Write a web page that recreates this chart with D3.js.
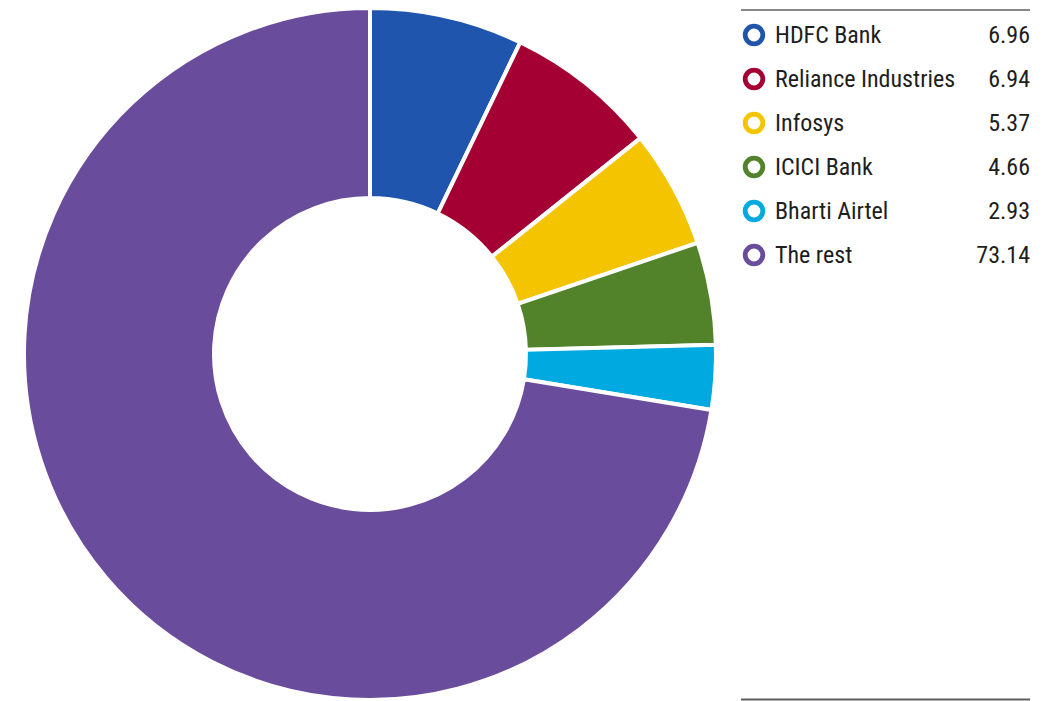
<!DOCTYPE html>
<html>
<head>
<meta charset="utf-8">
<script src="https://cdn.jsdelivr.net/npm/d3@7"></script>
<style>
  html, body { margin: 0; padding: 0; background: #ffffff; }
  svg { display: block; }
</style>
</head>
<body>
<script>
const names = ["HDFC Bank", "Reliance Industries", "Infosys", "ICICI Bank", "Bharti Airtel", "The rest"];
// legend figures as printed
const labels = ["6.96", "6.94", "5.37", "4.66", "2.93", "73.14"];
// slice sizes as drawn in the ring (the rest slice is visibly smaller than its label)
const sliceValues = [6.96, 6.94, 5.37, 4.66, 2.93, 70.5];
const colors = ["#1f55ad", "#a50034", "#f5c400", "#52832a", "#00a9e0", "#6a4c9c"];

const width = 1054;
const height = 701;
const font = "'Liberation Sans Narrow', 'Roboto Condensed', 'Arial Narrow', sans-serif";

const svg = d3.select("body").append("svg")
  .attr("width", width)
  .attr("height", height)
  .style("font-family", font);

// donut
const cx = 370, cy = 354;
const outerR = 346, innerR = 156;

const data = names.map((n, i) => ({ name: n, value: sliceValues[i], color: colors[i], label: labels[i] }));

const pie = d3.pie()
  .value(d => d.value)
  .sort(null);

const arc = d3.arc()
  .innerRadius(innerR)
  .outerRadius(outerR);

svg.append("g")
  .attr("transform", `translate(${cx},${cy})`)
  .selectAll("path")
  .data(pie(data))
  .join("path")
  .attr("d", arc)
  .attr("fill", d => d.data.color)
  .attr("stroke", "#ffffff")
  .attr("stroke-width", 4)
  .attr("stroke-linejoin", "miter");

// legend
const lx0 = 741, lx1 = 1030;
const rowY = d3.scalePoint()
  .domain(names)
  .range([35, 255]);

const legend = svg.append("g");

legend.append("line")
  .attr("x1", lx0).attr("x2", lx1)
  .attr("y1", 10).attr("y2", 10)
  .attr("stroke", "#5f5f5f")
  .attr("stroke-width", 1.5);

legend.append("line")
  .attr("x1", lx0).attr("x2", lx1)
  .attr("y1", 699.5).attr("y2", 699.5)
  .attr("stroke", "#5f5f5f")
  .attr("stroke-width", 2);

const rows = legend.selectAll("g.row")
  .data(data)
  .join("g")
  .attr("class", "row")
  .attr("transform", d => `translate(0,${rowY(d.name)})`);

rows.append("circle")
  .attr("cx", 754)
  .attr("cy", 0)
  .attr("r", 8.8)
  .attr("fill", "#ffffff")
  .attr("stroke", d => d.color)
  .attr("stroke-width", 4.8);

rows.append("text")
  .attr("x", 775)
  .attr("y", 8)
  .attr("fill", "#1e1e1e")
  .style("font-size", "24px")
  .text(d => d.name);

rows.append("text")
  .attr("x", lx1)
  .attr("y", 8)
  .attr("text-anchor", "end")
  .attr("fill", "#1e1e1e")
  .style("font-size", "24px")
  .text(d => d.label);
</script>
</body>
</html>
